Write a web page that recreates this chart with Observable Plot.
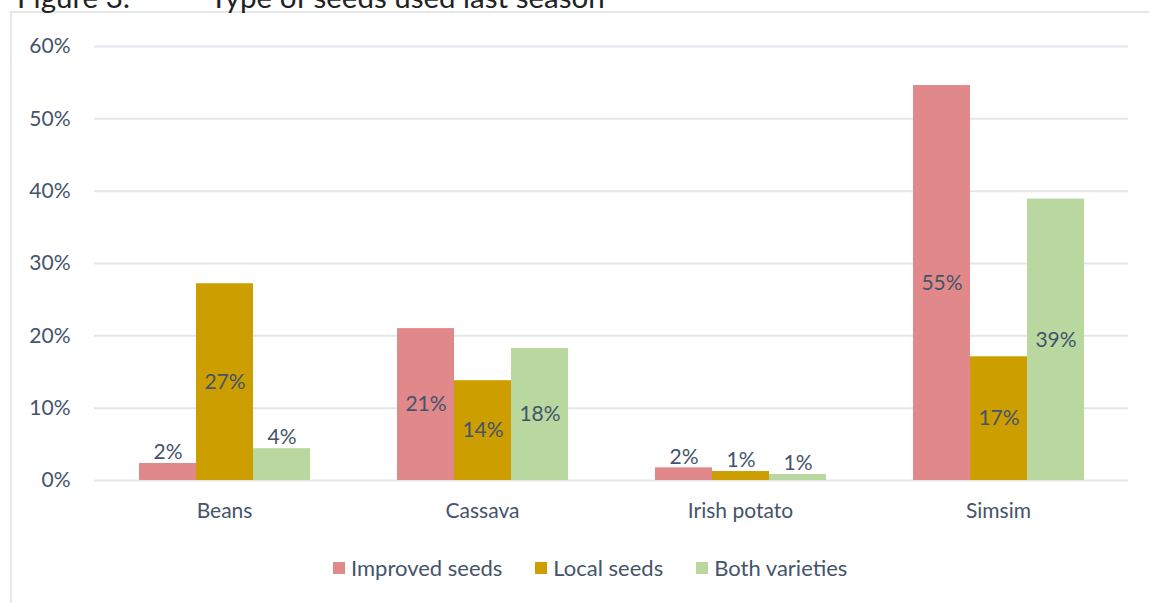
<!DOCTYPE html>
<html>
<head>
<meta charset="utf-8">
<script src="https://cdn.jsdelivr.net/npm/d3@7"></script>
<script src="https://cdn.jsdelivr.net/npm/@observablehq/plot@0.6"></script>
<style>
  html, body { margin: 0; padding: 0; background: #fff; }
  #root { position: relative; width: 1149px; height: 603px; overflow: hidden; font-family: Lato, "Open Sans", sans-serif; }
  #frame { position: absolute; left: 10px; top: 11px; width: 1300px; height: 800px; border: 2px solid #E4E7EC; box-sizing: border-box; }
  #title { position: absolute; left: 17px; top: -18px; font-size: 29.5px; line-height: 30px; color: #222; white-space: pre; }
  #title .t2 { position: absolute; left: 193px; }
  .layer { position: absolute; left: 0; top: 0; }
  #legend { position: absolute; top: 554px; left: 333px; display: flex; font-size: 22px; line-height: 28px; color: #44546A; white-space: nowrap; }
  .item { display: flex; align-items: center; margin-right: 33px; }
  .item:last-child { margin-right: 0; }
  .sw { width: 12px; height: 12px; margin-right: 6px; }
</style>
</head>
<body>
<div id="root">
  <div id="frame"></div>
  <div id="title">Figure 3:<span class="t2">Type of seeds used last season</span></div>
  <div id="grid" class="layer"></div>
  <div id="chart" class="layer"></div>
  <div id="legend"></div>
</div>
<script>
const crops = ["Beans", "Cassava", "Irish potato", "Simsim"];
const series = ["Improved seeds", "Local seeds", "Both varieties"];
const improved = [0.0235, 0.210, 0.0175, 0.546];
const local = [0.272, 0.138, 0.0124, 0.171];
const both = [0.044, 0.1825, 0.0083, 0.389];
const colors = ["#E1898A", "#CC9E00", "#B8D8A0"];
const yTicks = [0, 0.1, 0.2, 0.3, 0.4, 0.5, 0.6];

const seriesValues = [improved, local, both];
const data = [];
crops.forEach((c, i) => series.forEach((s, j) => data.push({crop: c, series: s, value: seriesValues[j][i]})));

const fmt = v => Math.round(v * 100) + "%";

const common = {
  width: 1149,
  height: 525,
  marginLeft: 94,
  marginRight: 21,
  marginTop: 46,
  marginBottom: 45,
  style: {fontFamily: "Lato, 'Open Sans', sans-serif", fontSize: "21px", color: "#44546A", background: "transparent", overflow: "visible"}
};

// Layer 1: continuous gridlines and y axis
const grid = Plot.plot({
  ...common,
  y: {domain: [0, 0.6], ticks: yTicks, tickFormat: d => Math.round(d * 100) + "%", tickSize: 0, tickPadding: 24, label: null},
  marks: [
    Plot.ruleY(yTicks, {stroke: "#E3E6EB", strokeWidth: 2})
  ]
});
document.getElementById("grid").appendChild(grid);

// Layer 2: grouped bars, labels, category axis
const chart = Plot.plot({
  ...common,
  fx: {domain: crops, paddingInner: 0.333, paddingOuter: 0.1667, label: null, axis: "bottom", tickSize: 0, tickPadding: 23},
  x: {domain: series, axis: null, paddingInner: 0, paddingOuter: 0},
  y: {domain: [0, 0.6], axis: null},
  color: {domain: series, range: colors},
  marks: [
    Plot.barY(data, {fx: "crop", x: "series", y: "value", fill: "series"}),
    Plot.text(data.filter(d => d.value >= 0.05), {
      fx: "crop", x: "series", y: d => d.value / 2,
      text: d => fmt(d.value), fill: "#44546A", fontSize: 21
    }),
    Plot.text(data.filter(d => d.value < 0.05), {
      fx: "crop", x: "series", y: "value", dy: -11,
      text: d => fmt(d.value), fill: "#44546A", fontSize: 21
    })
  ]
});
document.getElementById("chart").appendChild(chart);

const legend = document.getElementById("legend");
series.forEach((s, i) => {
  const it = document.createElement("div");
  it.className = "item";
  const sw = document.createElement("div");
  sw.className = "sw";
  sw.style.background = colors[i];
  const lb = document.createElement("span");
  lb.textContent = s;
  it.appendChild(sw); it.appendChild(lb);
  legend.appendChild(it);
});
</script>
</body>
</html>
